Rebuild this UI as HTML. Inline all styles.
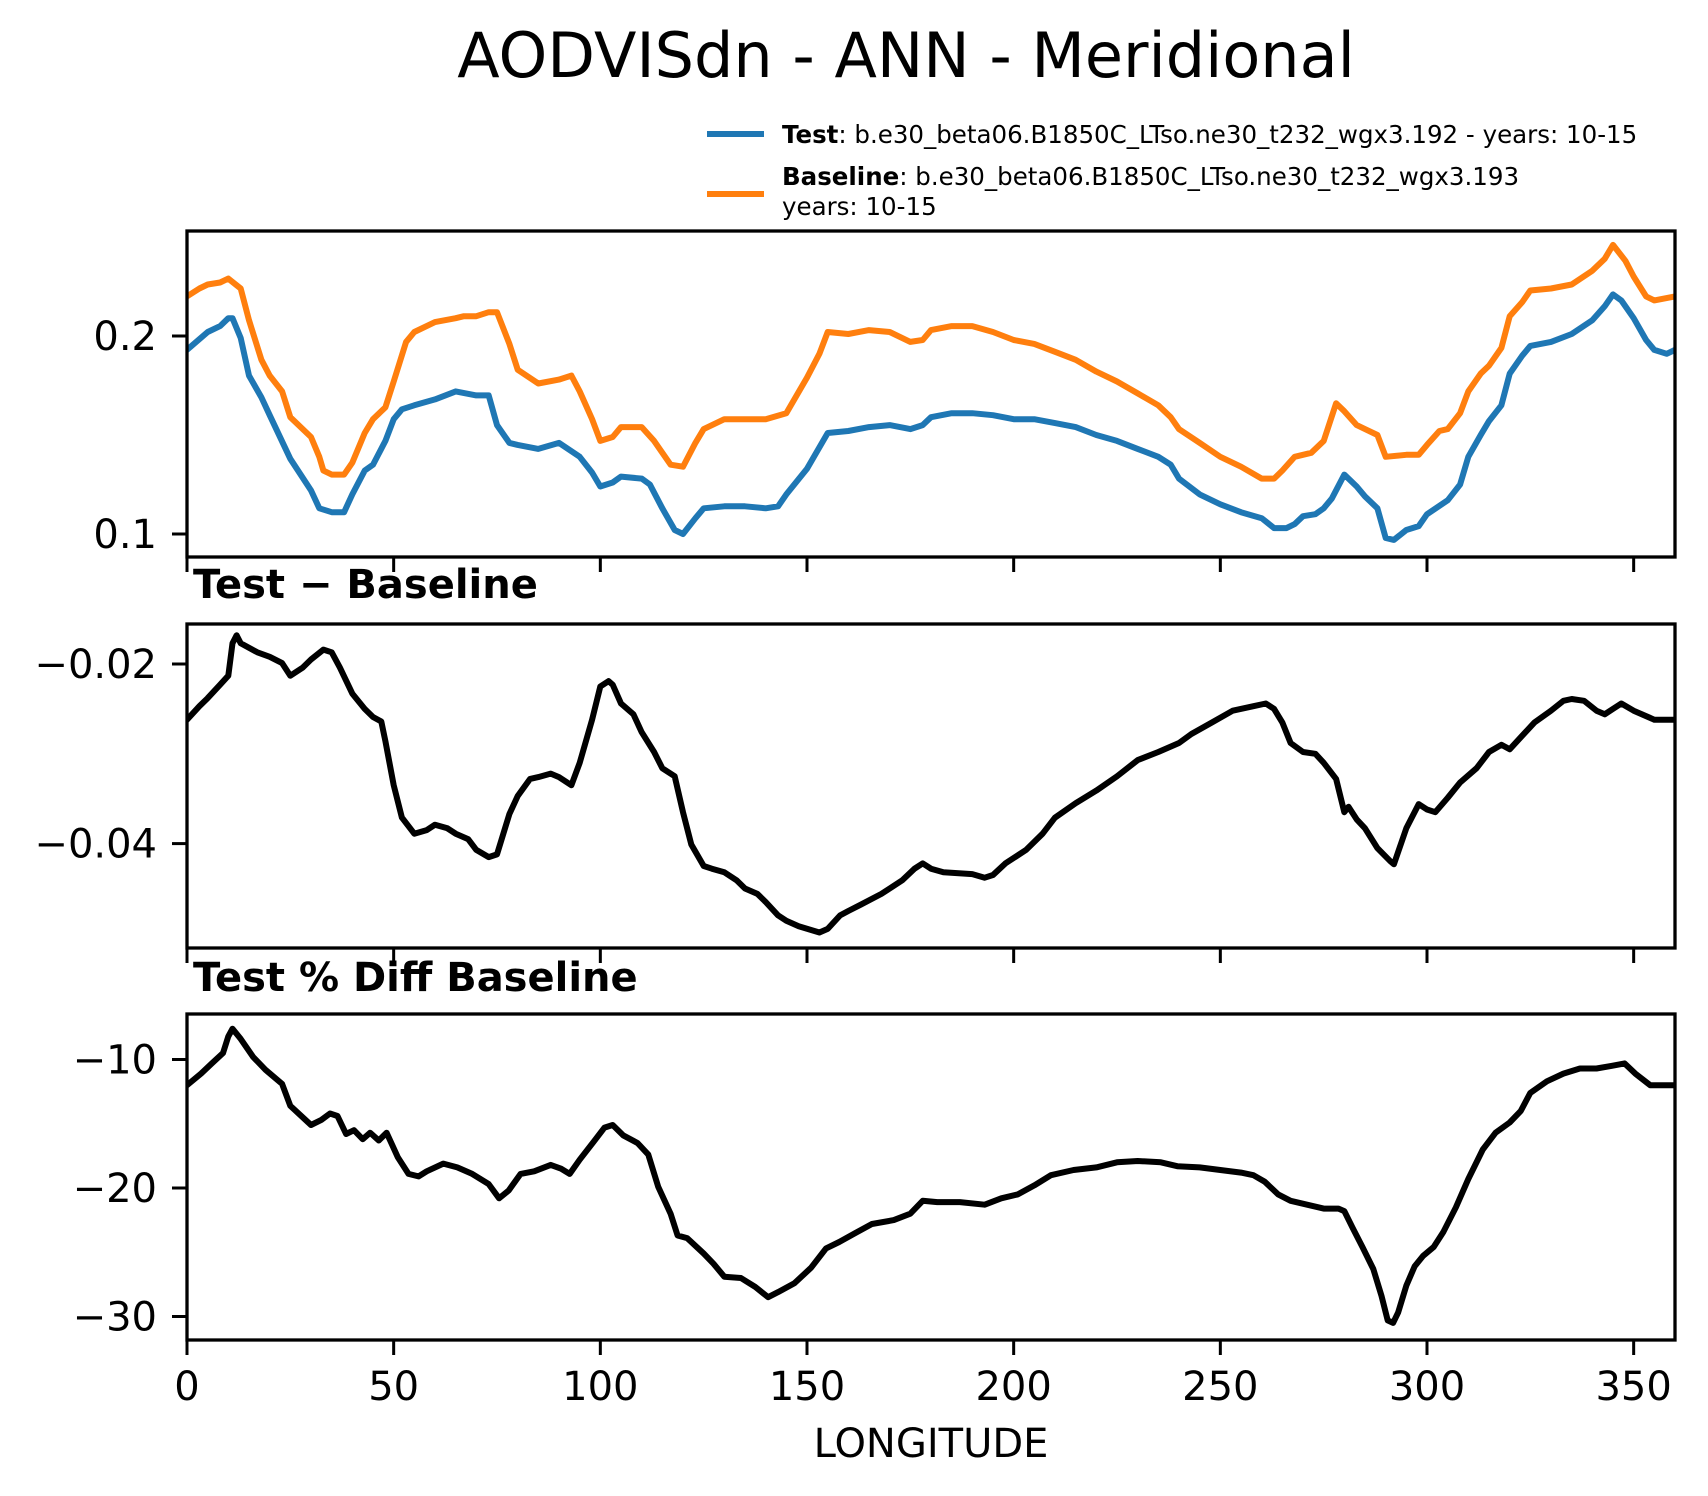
<!DOCTYPE html>
<html><head><meta charset="utf-8"><style>
body{margin:0;background:#fff}
svg{display:block;font-family:"DejaVu Sans","Liberation Sans",sans-serif}
</style></head><body>
<svg id="fig" width="1708" height="1496" viewBox="0 0 1708 1496" xmlns="http://www.w3.org/2000/svg">
<rect width="1708" height="1496" fill="#fff"/>
<text x="906" y="77" font-size="62" text-anchor="middle">AODVISdn - ANN - Meridional</text>
<g>
<line x1="707" y1="134" x2="764" y2="134" stroke="#1f77b4" stroke-width="6"/>
<text x="782" y="143" font-size="24.5"><tspan font-weight="bold">Test</tspan>: b.e30_beta06.B1850C_LTso.ne30_t232_wgx3.192 - years: 10-15</text>
<line x1="707" y1="194" x2="764" y2="194" stroke="#ff7f0e" stroke-width="6"/>
<text x="782" y="185" font-size="24.5"><tspan font-weight="bold">Baseline</tspan>: b.e30_beta06.B1850C_LTso.ne30_t232_wgx3.193</text>
<text x="782" y="215" font-size="24.5">years: 10-15</text>
</g>
<text x="193" y="598" font-size="40" font-weight="bold">Test − Baseline</text>
<text x="193" y="991" font-size="40" font-weight="bold">Test % Diff Baseline</text>
<text x="931" y="1457" font-size="40" text-anchor="middle">LONGITUDE</text>
<g id="plots"></g>
</svg>
<script>
// Panel 1: Test / Baseline
const lonTest = [0,5,8,10,11,13,15,18,20,25,30,32,35,38,40,43,45,48,50,52,55,60,65,70,73,75,78,80,85,90,95,98,100,103,105,110,112,115,118,120,123,125,130,135,140,143,145,150,155,160,165,170,175,178,180,185,190,195,200,205,210,215,220,225,230,235,238,240,245,250,255,260,263,266,268,270,273,275,277,280,283,285,288,290,292,295,298,300,305,308,310,313,315,318,320,323,325,330,335,340,343,345,347,350,353,355,358,360];
const testVals = [0.193,0.202,0.205,0.209,0.209,0.199,0.180,0.169,0.160,0.138,0.122,0.113,0.111,0.111,0.120,0.132,0.135,0.147,0.158,0.163,0.165,0.168,0.172,0.170,0.170,0.155,0.146,0.145,0.143,0.146,0.139,0.131,0.124,0.126,0.129,0.128,0.125,0.113,0.102,0.100,0.108,0.113,0.114,0.114,0.113,0.114,0.120,0.133,0.151,0.152,0.154,0.155,0.153,0.155,0.159,0.161,0.161,0.160,0.158,0.158,0.156,0.154,0.150,0.147,0.143,0.139,0.135,0.128,0.120,0.115,0.111,0.108,0.103,0.103,0.105,0.109,0.110,0.113,0.118,0.130,0.124,0.119,0.113,0.098,0.097,0.102,0.104,0.110,0.117,0.125,0.139,0.150,0.157,0.165,0.181,0.190,0.195,0.197,0.201,0.208,0.215,0.221,0.218,0.209,0.198,0.193,0.191,0.193];
const lonBase = [0,3,5,8,10,13,15,18,20,23,25,30,32,33,35,38,40,43,45,48,50,53,55,60,65,67,70,73,75,78,80,85,90,93,95,98,100,103,105,110,113,117,120,123,125,130,135,140,145,150,153,155,160,165,170,175,178,180,185,190,195,200,205,210,215,220,225,230,235,238,240,245,250,255,260,263,265,268,272,275,278,280,283,285,288,290,295,298,300,303,305,308,310,313,315,318,320,323,325,330,335,340,343,345,348,350,353,355,360];
const baseVals = [0.220,0.224,0.226,0.227,0.229,0.224,0.208,0.188,0.180,0.172,0.159,0.149,0.139,0.132,0.130,0.130,0.136,0.151,0.158,0.164,0.177,0.197,0.202,0.207,0.209,0.210,0.210,0.212,0.212,0.196,0.183,0.176,0.178,0.180,0.172,0.158,0.147,0.149,0.154,0.154,0.147,0.135,0.134,0.146,0.153,0.158,0.158,0.158,0.161,0.179,0.191,0.202,0.201,0.203,0.202,0.197,0.198,0.203,0.205,0.205,0.202,0.198,0.196,0.192,0.188,0.182,0.177,0.171,0.165,0.159,0.153,0.146,0.139,0.134,0.128,0.128,0.132,0.139,0.141,0.147,0.166,0.162,0.155,0.153,0.150,0.139,0.140,0.140,0.145,0.152,0.153,0.161,0.172,0.181,0.185,0.194,0.210,0.217,0.223,0.224,0.226,0.233,0.239,0.246,0.238,0.230,0.220,0.218,0.220];
// Panel 2: difference
const lonDiff = [0,3,5,8,10,11,12,13,17,20,23,25,28,30,33,35,37,40,43,45,47,48,50,52,55,58,60,63,65,68,70,73,75,78,80,83,85,88,90,93,95,98,100,102,103,105,108,110,113,115,118,120,122,125,127,130,133,135,138,140,143,145,148,153,155,158,160,163,168,173,176,178,180,183,190,193,195,198,203,207,210,215,220,225,230,235,240,243,248,253,258,261,263,265,267,270,273,275,278,280,281,283,285,288,291,292,295,298,300,302,305,308,312,315,318,320,323,326,330,333,335,338,341,343,345,347,350,355,360];
const diffVals = [-0.0262,-0.0247,-0.0238,-0.0223,-0.0213,-0.0177,-0.0168,-0.0177,-0.0187,-0.0192,-0.0199,-0.0213,-0.0204,-0.0195,-0.0184,-0.0187,-0.0204,-0.0233,-0.0250,-0.0259,-0.0264,-0.0286,-0.0335,-0.0371,-0.0389,-0.0385,-0.0379,-0.0383,-0.0389,-0.0395,-0.0407,-0.0415,-0.0412,-0.0367,-0.0347,-0.0328,-0.0326,-0.0322,-0.0326,-0.0335,-0.0310,-0.0262,-0.0225,-0.0219,-0.0223,-0.0244,-0.0256,-0.0276,-0.0298,-0.0316,-0.0325,-0.0365,-0.0401,-0.0425,-0.0428,-0.0432,-0.0441,-0.0450,-0.0456,-0.0465,-0.0480,-0.0486,-0.0492,-0.0499,-0.0495,-0.0480,-0.0475,-0.0468,-0.0456,-0.0441,-0.0428,-0.0422,-0.0428,-0.0432,-0.0434,-0.0438,-0.0435,-0.0422,-0.0407,-0.0389,-0.0371,-0.0355,-0.0341,-0.0325,-0.0307,-0.0298,-0.0288,-0.0278,-0.0265,-0.0252,-0.0247,-0.0244,-0.0250,-0.0265,-0.0288,-0.0298,-0.0300,-0.0310,-0.0328,-0.0365,-0.0359,-0.0373,-0.0383,-0.0405,-0.0419,-0.0423,-0.0383,-0.0356,-0.0362,-0.0365,-0.0349,-0.0332,-0.0316,-0.0298,-0.0290,-0.0295,-0.0280,-0.0265,-0.0252,-0.0241,-0.0239,-0.0241,-0.0252,-0.0256,-0.0250,-0.0244,-0.0252,-0.0262,-0.0262];
// Panel 3: percent difference
const lonPct = [0,3.4,6,8.7,10,11,13,16,19,23,25,30,32.5,34.6,36.4,38.5,40.4,42.5,44.3,46.4,48.3,51,53.6,56,58,62,65.4,69,73,75.5,77.8,80.7,84,88,90.5,92.6,95,98.4,101,103,105.5,109,111.6,114,117,118.7,121,125,127.4,130,134,137.5,140.6,143,147,151,154.6,157.8,161.7,165.7,171,175,178,181.5,187,193,197,201,205,209,214.5,220,225,230,235.6,239.6,245,250,255,258,260.7,264,267,271,275,278.6,280,282,284.4,287,289,290.5,291.8,293,295,297,299,301.6,304,307,310,313.5,316.6,320,322.7,325,329,333,337,341,344.6,347.8,350.4,354,360];
const pctVals = [-12.0,-11.1,-10.3,-9.5,-8.2,-7.6,-8.4,-9.8,-10.8,-11.9,-13.6,-15.1,-14.7,-14.2,-14.4,-15.8,-15.5,-16.2,-15.7,-16.3,-15.7,-17.6,-18.9,-19.1,-18.7,-18.1,-18.4,-18.9,-19.7,-20.8,-20.2,-18.9,-18.7,-18.2,-18.5,-18.9,-17.8,-16.4,-15.3,-15.1,-15.9,-16.5,-17.4,-19.9,-22.0,-23.7,-23.9,-25.1,-25.9,-26.9,-27.0,-27.7,-28.5,-28.1,-27.4,-26.2,-24.7,-24.2,-23.5,-22.8,-22.5,-22.0,-21.0,-21.1,-21.1,-21.3,-20.8,-20.5,-19.8,-19.0,-18.6,-18.4,-18.0,-17.9,-18.0,-18.3,-18.4,-18.6,-18.8,-19.0,-19.5,-20.5,-21.0,-21.3,-21.6,-21.6,-21.8,-23.1,-24.6,-26.3,-28.4,-30.3,-30.5,-29.7,-27.6,-26.1,-25.3,-24.6,-23.4,-21.5,-19.3,-17.0,-15.7,-14.9,-14.0,-12.6,-11.7,-11.1,-10.7,-10.7,-10.5,-10.3,-11.1,-12.0,-12.0];
const xTicks = [0,50,100,150,200,250,300,350];
const p1Ticks = [0.1,0.2], p1Labels = ["0.1","0.2"];
const p2Ticks = [-0.04,-0.02], p2Labels = ["\u22120.04","\u22120.02"];
const p3Ticks = [-30,-20,-10], p3Labels = ["\u221230","\u221220","\u221210"];

const NS="http://www.w3.org/2000/svg";
const root=document.getElementById('plots');
const X0=187,X1=1675;
function xs(l){return X0+(l/360)*(X1-X0);}
function mk(tag,attrs){const e=document.createElementNS(NS,tag);for(const k in attrs)e.setAttribute(k,attrs[k]);return e;}
function panel(name,top,bot,ys,ticks,labels,showX){
  const g=mk('g',{});
  
  
  root.appendChild(g);
  ticks.forEach((t,i)=>{
    const y=ys(t);
    const tl=mk('line',{x1:X0-15,x2:X0,y1:y,y2:y,stroke:'#000','stroke-width':3});
    
    
    g.appendChild(tl);
    const tx=mk('text',{x:X0-30,y:y+14,'font-size':40,'text-anchor':'end'});
    
    
    tx.textContent=labels[i];g.appendChild(tx);
  });
  xTicks.forEach(t=>{
    const x=xs(t);
    const tl=mk('line',{x1:x,x2:x,y1:bot,y2:bot+15,stroke:'#000','stroke-width':3});
    
    
    g.appendChild(tl);
    if(showX){
      const tx=mk('text',{x:x,y:bot+60,'font-size':40,'text-anchor':'middle'});
      
      
      tx.textContent=String(t);g.appendChild(tx);
    }
  });
  return g;
}
function series(g,lons,vals,ys,color,name){
  const d=lons.map((l,i)=>(i?'L':'M')+xs(l).toFixed(1)+','+ys(vals[i]).toFixed(1)).join(' ');
  const p=mk('path',{d:d,fill:'none',stroke:color,'stroke-width':6,'stroke-linejoin':'round','stroke-linecap':'round','clip-path':'url(#clip-'+name+')'});
  
  
  g.appendChild(p);
}
function frame(g,name,top,bot){
  const cp=mk('clipPath',{id:'clip-'+name});
  cp.appendChild(mk('rect',{x:X0,y:top,width:X1-X0,height:bot-top}));
  g.appendChild(cp);
}
function box(g,name,top,bot){
  const r=mk('rect',{x:X0,y:top,width:X1-X0,height:bot-top,fill:'none',stroke:'#000','stroke-width':3.3});
  
  
  g.appendChild(r);
}
const y1=v=>534-(v-0.1)*1980;
const g1=panel('top-panel',231,557,y1,p1Ticks,p1Labels,false);
frame(g1,'baseline',231,557);frame(g1,'test',231,557);
series(g1,lonBase,baseVals,y1,'#ff7f0e','baseline');
series(g1,lonTest,testVals,y1,'#1f77b4','test');
box(g1,'top-panel',231,557);
const y2=v=>664+(-0.02-v)*8980;
const g2=panel('diff-panel',624,948,y2,p2Ticks,p2Labels,false);
frame(g2,'diff',624,948);
series(g2,lonDiff,diffVals,y2,'#000','diff');
box(g2,'diff-panel',624,948);
const y3=v=>1059.5+(-10-v)*12.85;
const g3=panel('pct-panel',1014,1340,y3,p3Ticks,p3Labels,true);
frame(g3,'pct',1014,1340);
series(g3,lonPct,pctVals,y3,'#000','pct');
box(g3,'pct-panel',1014,1340);
</script>
</body></html>
